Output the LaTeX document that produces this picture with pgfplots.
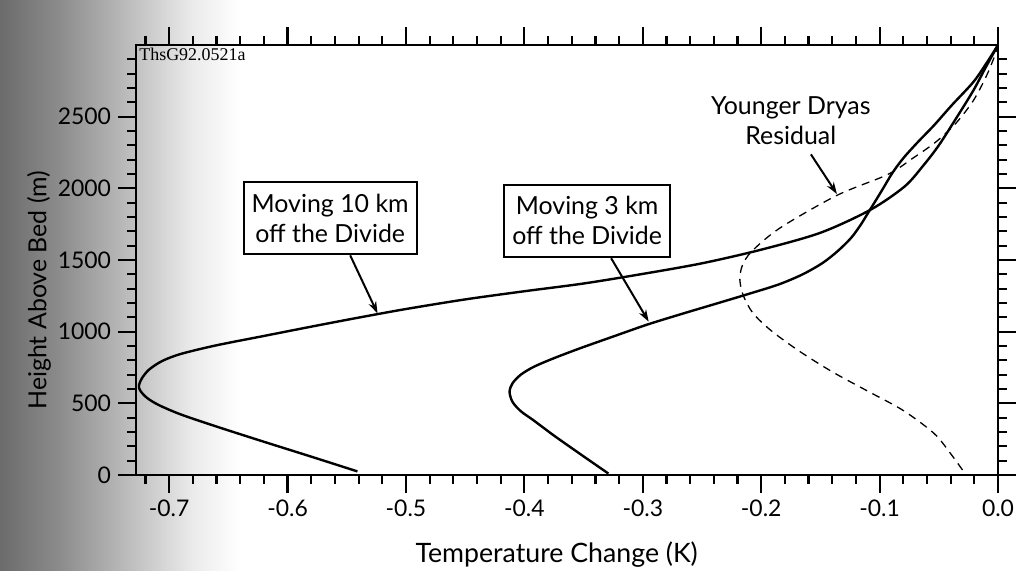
\documentclass[border=0pt]{standalone}
\usepackage{fontspec}
\setmainfont{Lato}
\newfontfamily\codefont{Liberation Serif}
\usepackage{pgfplots}
\pgfplotsset{compat=1.18}
\usetikzlibrary{arrows.meta}

% darkening towards the left edge of the sheet
\pgfdeclarehorizontalshading{pagefade}{100bp}{%
  color(0bp)=(black!58); color(25bp)=(black!58); color(37.5bp)=(black!45);
  color(52.5bp)=(black!25); color(65bp)=(black!8); color(75bp)=(white);
  color(100bp)=(white)}

% temperature change (K) against height above bed (m)
\pgfplotstableread{
x       h
-0.541  25
-0.580  128
-0.620  232
-0.660  338
-0.690  422
-0.709  489
-0.719  540
-0.7245 590
-0.7255 625
-0.723  675
-0.717  735
-0.706  795
-0.690  845
-0.660  905
-0.620  970
-0.580  1035
-0.540  1098
-0.500  1158
-0.450  1225
-0.400  1282
-0.350  1336
-0.300  1403
-0.250  1477
-0.200  1572
-0.150  1690
-0.108  1849
-0.079  2012
-0.063  2160
-0.050  2300
-0.036  2480
-0.021  2680
-0.010  2850
 0.000  3000
}\tenkm

\pgfplotstableread{
x       h
-0.329  10
-0.350  130
-0.375  275
-0.392  380
-0.403  445
-0.410  510
-0.4125 580
-0.410  640
-0.403  700
-0.392  755
-0.375  815
-0.353  884
-0.324  969
-0.296  1050
-0.267  1124
-0.239  1193
-0.210  1265
-0.185  1330
-0.165  1400
-0.148  1480
-0.135  1565
-0.124  1655
-0.116  1745
-0.110  1825
-0.104  1905
-0.097  2000
-0.089  2110
-0.080  2210
-0.068  2320
-0.054  2440
-0.039  2580
-0.021  2740
-0.010  2870
 0.000  3000
}\threekm

\pgfplotstableread{
x       h
-0.030  35
-0.040  149
-0.054  290
-0.080  450
-0.110  585
-0.140  720
-0.168  865
-0.192  1010
-0.207  1130
-0.215  1250
-0.218  1360
-0.216  1460
-0.208  1560
-0.184  1724
-0.136  1951
-0.093  2097
-0.072  2210
-0.053  2320
-0.036  2450
-0.021  2610
-0.010  2780
-0.003  2920
 0.000  3000
}\youngerdryas

\begin{document}
\begin{tikzpicture}
\shade[shading=pagefade] (-68bp,-48bp) rectangle (52bp,237.5bp);
\begin{axis}[
  at={(0,0)}, anchor=south west,
  scale only axis, width=431bp, height=215bp,
  xmin=-0.728, xmax=0, ymin=0, ymax=3000,
  xtick={-0.7,-0.6,-0.5,-0.4,-0.3,-0.2,-0.1,0},
  minor xtick={-0.72,-0.68,-0.66,-0.64,-0.62,-0.58,-0.56,-0.54,-0.52,
               -0.48,-0.46,-0.44,-0.42,-0.38,-0.36,-0.34,-0.32,
               -0.28,-0.26,-0.24,-0.22,-0.18,-0.16,-0.14,-0.12,
               -0.08,-0.06,-0.04,-0.02},
  ytick={0,500,1000,1500,2000,2500},
  minor ytick={100,200,300,400,600,700,800,900,1100,1200,1300,1400,
               1600,1700,1800,1900,2100,2200,2300,2400,2600,2700,2800,2900},
  xtick pos=both, ytick pos=both,
  xticklabel pos=lower, yticklabel pos=left,
  tick align=outside,
  major tick length=9bp, minor tick length=4.5bp,
  every tick/.style={line width=1.1bp, black},
  axis line style={line width=1.3bp},
  scaled x ticks=false,
  tick label style={font=\fontsize{11.5}{14}\selectfont,
    /pgf/number format/assume math mode=true},
  xticklabel style={/pgf/number format/.cd, fixed, fixed zerofill, precision=1},
  yticklabel style={/pgf/number format/1000 sep={}},
  xlabel={Temperature Change (K)},
  ylabel={Height Above Bed (m)},
  xlabel style={font=\fontsize{13.4}{15}\selectfont,
    at={(axis description cs:0.488,-0.186)}, anchor=center},
  ylabel style={font=\fontsize{12.5}{15}\selectfont,
    at={(axis description cs:-0.1125,0.43)}, anchor=center},
]
\addplot[black, line width=1.2bp, smooth, tension=0.5] table[x=x, y=h] {\tenkm};
\addplot[black, line width=1.2bp, smooth, tension=0.5] table[x=x, y=h] {\threekm};
\addplot[black, line width=0.65bp, dash pattern=on 4bp off 3bp, smooth, tension=0.5]
  table[x=x, y=h] {\youngerdryas};

\node[anchor=north west, inner sep=1.5bp, font=\codefont\fontsize{9}{10}\selectfont]
  at (rel axis cs:0,1) {ThsG92.0521a};

\tikzset{callout/.style={draw, line width=1.1bp, fill=white, align=center,
    inner xsep=4bp, inner ysep=6bp, font=\fontsize{12.5}{15}\selectfont},
  pointer/.style={line width=1bp, -{Stealth[length=6bp, width=4bp]}}}

\node[callout] (b10) at (axis cs:-0.564,1793) {Moving 10 km\\off the Divide};
\draw[pointer] ([xshift=10bp]b10.south) -- (axis cs:-0.524,1127);

\node[callout] (b3) at (axis cs:-0.347,1773) {Moving 3 km\\off the Divide};
\draw[pointer] ([xshift=12bp]b3.south) -- (axis cs:-0.295,1070);

\node[align=center, inner sep=1bp, font=\fontsize{12.5}{15}\selectfont]
  at (axis cs:-0.175,2470) {Younger Dryas\\Residual};
\draw[pointer] (axis cs:-0.158,2237) -- (axis cs:-0.136,1960);
\end{axis}
\pgfresetboundingbox
\path[use as bounding box] (-68bp,-48bp) rectangle (445bp,237.5bp);
\end{tikzpicture}
\end{document}
